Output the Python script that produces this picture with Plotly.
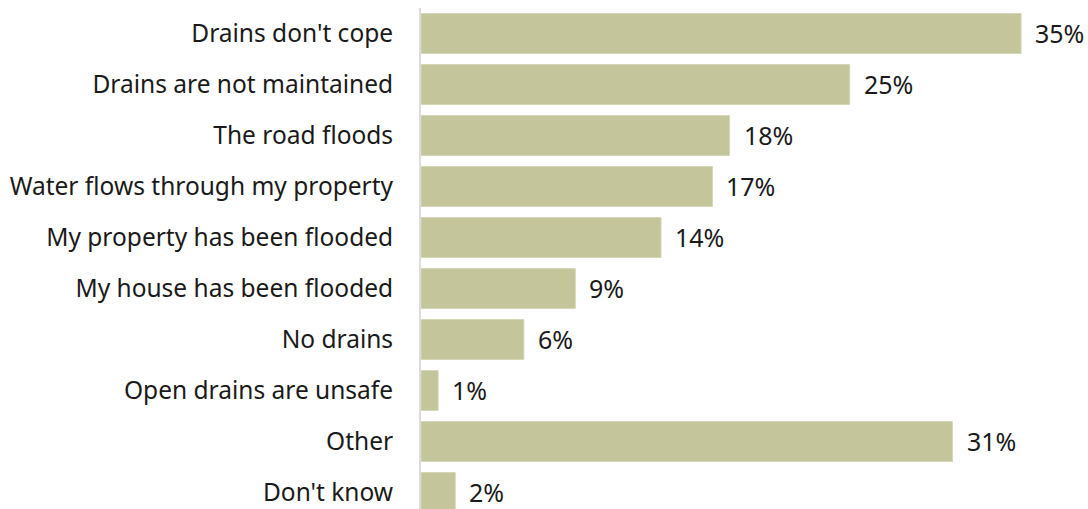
import plotly.graph_objects as go

categories = [
    "Drains don't cope",
    "Drains are not maintained",
    "The road floods",
    "Water flows through my property",
    "My property has been flooded",
    "My house has been flooded",
    "No drains",
    "Open drains are unsafe",
    "Other",
    "Don't know",
]
values = [35, 25, 18, 17, 14, 9, 6, 1, 31, 2]

BAR_COLOR = "#c4c59b"
TEXT_COLOR = "#1a1a1a"
FONT = "'Noto Sans', sans-serif"
LABEL_SIZE = 24.5
VALUE_SIZE = 25

fig = go.Figure(
    go.Bar(
        x=values,
        y=categories,
        orientation="h",
        marker=dict(color=BAR_COLOR, line=dict(color="#d6d7b8", width=1)),
        hoverinfo="skip",
    )
)

# percentage labels just past the end of each bar
for cat, val in zip(categories, values):
    fig.add_annotation(
        x=val, y=cat, text=f"{val}%", showarrow=False,
        xanchor="left", yanchor="middle", xshift=12, yshift=1,
        font=dict(family=FONT, size=VALUE_SIZE, color=TEXT_COLOR),
    )

fig.update_layout(
    width=1088, height=509,
    margin=dict(l=421, r=0, t=8, b=0),
    paper_bgcolor="white", plot_bgcolor="white",
    bargap=0.216,
    showlegend=False,
    font=dict(family=FONT, size=LABEL_SIZE, color=TEXT_COLOR),
    xaxis=dict(range=[0, 38.9], visible=False, fixedrange=True),
    yaxis=dict(
        range=[-0.5 + 501 / 51, -0.5],
        showline=True, linecolor="#dcdcdc", linewidth=2,
        showgrid=False, zeroline=False,
        ticks="", ticklabelstandoff=21,
        tickfont=dict(family=FONT, size=LABEL_SIZE, color=TEXT_COLOR),
        fixedrange=True,
    ),
)

fig.write_html("out.html")
